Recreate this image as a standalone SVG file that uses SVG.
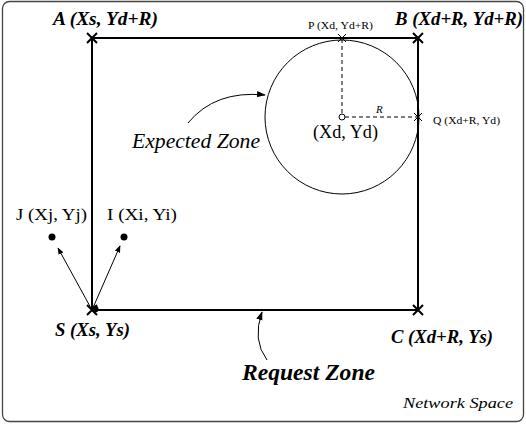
<svg xmlns="http://www.w3.org/2000/svg" width="526" height="424" viewBox="0 0 526 424">
<defs>
<marker id="ah" viewBox="0 0 10 10" refX="9" refY="5" markerWidth="7" markerHeight="7" markerUnits="userSpaceOnUse" orient="auto">
<path d="M0,1 L10,5 L0,9 Z" fill="#000"/>
</marker>
<marker id="ah2" viewBox="0 0 10 10" refX="9" refY="5" markerWidth="9" markerHeight="9" markerUnits="userSpaceOnUse" orient="auto">
<path d="M0,1.5 L10,5 L0,8.5 Z" fill="#000"/>
</marker>
</defs>
<style>
text{font-family:"Liberation Serif","Times New Roman",serif;fill:#000}
.bi{font-weight:bold;font-style:italic;font-size:18.5px}
.it{font-style:italic}
.rg{font-size:16.5px}
.sm{font-size:11px}
.xb{stroke:#000;stroke-width:2;fill:none}
.xt{stroke:#000;stroke-width:1;fill:none}
.dash{stroke:#000;stroke-width:1;stroke-dasharray:4,3;fill:none}
.thin{stroke:#000;stroke-width:1;fill:none}
</style>
<rect x="2.5" y="1.5" width="521" height="420" rx="7" fill="#fff" stroke="#444" stroke-width="1.3"/>

<g id="request-zone">
<path d="M92,38 H418 V310 H92 Z" fill="none" stroke="#000" stroke-width="2"/>
</g>

<g id="expected-zone">
<circle cx="342" cy="117" r="77" fill="none" stroke="#000" stroke-width="1"/>
<circle cx="342" cy="117" r="3" fill="#fff" stroke="#000" stroke-width="1"/>
<path class="dash" d="M342,39 V114"/>
<path class="dash" d="M345,117 H418"/>
<text class="it sm" x="376" y="113">R</text>
<text x="313" y="138" font-size="19" textLength="65" lengthAdjust="spacingAndGlyphs">(Xd, Yd)</text>
</g>

<g id="A">
<path class="xb" d="M87,33 L97,43 M97,33 L87,43"/>
<text class="bi" x="53" y="25" textLength="105" lengthAdjust="spacingAndGlyphs">A (Xs, Yd+R)</text>
</g>
<g id="B">
<path class="xb" d="M413,33 L423,43 M423,33 L413,43"/>
<text class="bi" x="395" y="25" textLength="128" lengthAdjust="spacingAndGlyphs">B (Xd+R, Yd+R)</text>
</g>
<g id="S">
<path class="xb" d="M87,305 L97,315 M97,305 L87,315"/>
<circle cx="95" cy="309" r="3.5" fill="#000"/>
<text class="bi" x="55" y="336" textLength="75" lengthAdjust="spacingAndGlyphs">S (Xs, Ys)</text>
</g>
<g id="C">
<path class="xb" d="M413,305 L423,315 M423,305 L413,315"/>
<text class="bi" x="391" y="343" textLength="102" lengthAdjust="spacingAndGlyphs">C (Xd+R, Ys)</text>
</g>
<g id="P">
<path class="xt" d="M338,34 L346,42 M346,34 L338,42"/>
<text class="sm" x="308" y="29" textLength="65" lengthAdjust="spacingAndGlyphs">P (Xd, Yd+R)</text>
</g>
<g id="Q">
<path class="xt" d="M414,113 L422,121 M422,113 L414,121"/>
<text class="sm" x="433" y="124" textLength="67" lengthAdjust="spacingAndGlyphs">Q (Xd+R, Yd)</text>
</g>
<g id="J">
<circle cx="52" cy="237" r="3.5" fill="#000"/>
<text class="rg" x="16" y="220" textLength="71" lengthAdjust="spacingAndGlyphs">J (Xj, Yj)</text>
</g>
<g id="I">
<circle cx="124" cy="237" r="3.5" fill="#000"/>
<text class="rg" x="107" y="220" textLength="70" lengthAdjust="spacingAndGlyphs">I (Xi, Yi)</text>
</g>

<g id="labels">
<text class="it" x="132" y="148" font-size="20" textLength="128" lengthAdjust="spacingAndGlyphs">Expected Zone</text>
<text class="bi" x="242" y="380" style="font-size:24px" textLength="133" lengthAdjust="spacingAndGlyphs">Request Zone</text>
<text class="it" x="403" y="408" font-size="15.5" textLength="110" lengthAdjust="spacingAndGlyphs">Network Space</text>
</g>

<g id="connectors">
<path class="thin" d="M92,310 L58,248" marker-end="url(#ah)"/>
<path class="thin" d="M92,310 L120,246" marker-end="url(#ah)"/>
<path class="thin" d="M188,123 Q215,90 265,95" marker-end="url(#ah2)"/>
<path class="thin" d="M267,360 Q252,340 262,312" marker-end="url(#ah2)"/>
</g>
</svg>
